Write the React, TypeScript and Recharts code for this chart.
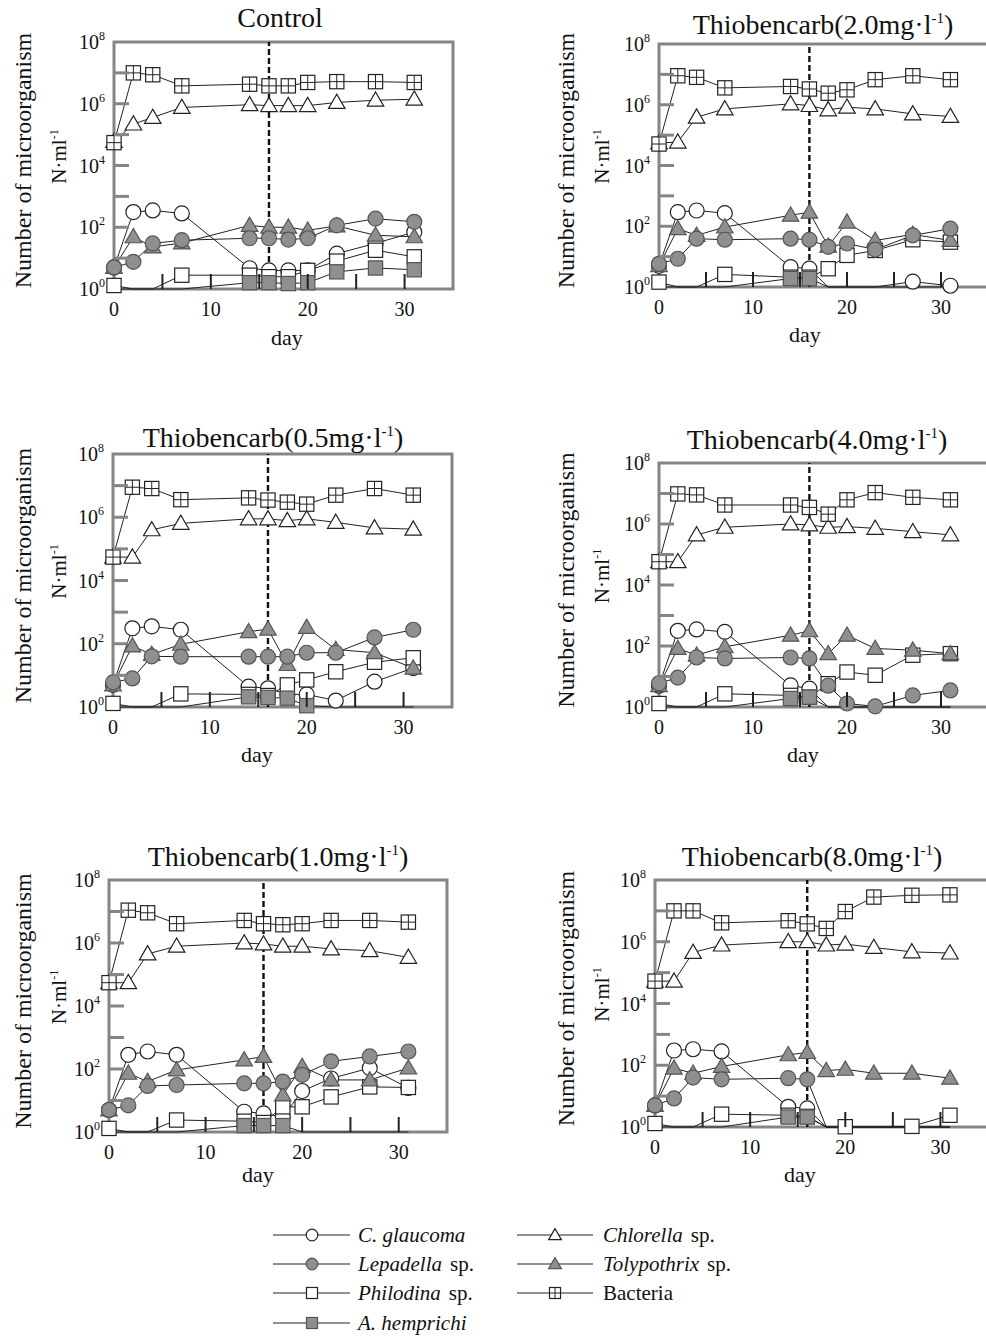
import React from 'react'
import { LineChart, Line, XAxis, YAxis, ReferenceLine, ReferenceArea } from 'recharts'

const DAYS = [0, 2, 4, 7, 14, 16, 18, 20, 23, 27, 31]
const X_TICKS = [0, 5, 10, 15, 20, 25, 30, 35]
const Y_TICKS = [1, 10, 1e2, 1e3, 1e4, 1e5, 1e6, 1e7, 1e8]
const TREATMENT_DAY = 16

// N·ml-1 per sampling day; 0 = not detected (line drops to the axis, no marker)
const CONTROL = {
  glaucoma: [5, 310, 350, 280, 4.7, 4, 4, 4, 14, 30, 70],
  lepadella: [5, 7.6, 30, 38, 44, 44, 40, 44, 115, 190, 150],
  philodina: [1.3, 0, 0, 2.8, 2.8, 2.5, 2.5, 4, 8, 18, 11],
  hemprichi: [0, 0, 0, 0, 1.6, 1.6, 1.5, 1.6, 3.6, 4.8, 4.2],
  chlorella: [6e4, 2.2e5, 3.6e5, 7.6e5, 9.3e5, 8.7e5, 8.7e5, 8.7e5, 1.1e6, 1.3e6, 1.4e6],
  tolypothrix: [5, 49, 23, 31, 115, 100, 100, 80, 110, 55, 49],
  bacteria: [5.5e4, 1e7, 8.7e6, 3.8e6, 4.3e6, 3.8e6, 3.8e6, 4.9e6, 5.2e6, 5.2e6, 4.9e6],
}

const T2_0 = {
  glaucoma: [5, 290, 330, 270, 4.5, 4, 0, 0, 0, 1.5, 1.1],
  lepadella: [5.8, 8.5, 39, 36, 39, 36, 21, 27, 17, 50, 83],
  philodina: [1.45, 0, 0, 2.6, 2.1, 2.1, 4, 11, 16, 36, 30],
  hemprichi: [0, 0, 0, 0, 1.9, 1.9, 0, 0, 0, 0, 0],
  chlorella: [5.5e4, 5.9e4, 3.9e5, 7.3e5, 1.07e6, 9.4e5, 6.8e5, 8.3e5, 7.3e5, 5e5, 4.1e5],
  tolypothrix: [5, 83, 50, 94, 230, 290, 22, 137, 34, 54, 34],
  bacteria: [5.1e4, 9e6, 8e6, 3.6e6, 4e6, 3.3e6, 2.4e6, 3.1e6, 6.7e6, 9e6, 6.7e6],
}

const T0_5 = {
  glaucoma: [5, 307, 355, 277, 4.4, 3.9, 2.5, 2.5, 1.6, 6.3, 17],
  lepadella: [6, 8, 40, 39, 39, 39, 39, 52, 52, 158, 277],
  philodina: [1.3, 0, 0, 2.6, 2.5, 2.3, 5, 7.2, 13, 26, 36],
  hemprichi: [0, 0, 0, 0, 2.1, 2, 1.9, 1.1, 0, 0, 0],
  chlorella: [5.5e4, 5.5e4, 4e5, 6.4e5, 8.9e5, 8.9e5, 7.8e5, 8.9e5, 6.9e5, 4.6e5, 4.2e5],
  tolypothrix: [5, 85, 46, 96, 240, 290, 22, 330, 66, 52, 17],
  bacteria: [5.5e4, 8.9e6, 8.1e6, 3.6e6, 4.1e6, 3.5e6, 3e6, 2.6e6, 5e6, 8.1e6, 5e6],
}

const T4_0 = {
  glaucoma: [5, 315, 350, 290, 5.1, 4, 0, 0, 0, 0, 0],
  lepadella: [6, 9.2, 42, 39, 42, 39, 5, 1.3, 1.05, 2.4, 3.5],
  philodina: [1.3, 0, 0, 2.7, 2.4, 2.1, 5.8, 14, 11, 50, 56],
  hemprichi: [0, 0, 0, 0, 1.9, 2.1, 0, 0, 0, 0, 0],
  chlorella: [5.8e4, 5.8e4, 4.4e5, 7.8e5, 1e6, 9.3e5, 7.8e5, 8.2e5, 7.2e5, 5.6e5, 4.4e5],
  tolypothrix: [5, 83, 50, 94, 225, 315, 56, 225, 83, 73, 56],
  bacteria: [5.8e4, 9.7e6, 9e6, 4.2e6, 4.2e6, 3.5e6, 2.1e6, 6.2e6, 1.07e7, 7.5e6, 6.2e6],
}

const T1_0 = {
  glaucoma: [5, 282, 360, 282, 4.4, 3.9, 3, 20, 50, 107, 25],
  lepadella: [5, 7, 29, 31, 35, 35, 40, 65, 175, 250, 360],
  philodina: [1.3, 0, 0, 2.4, 2.2, 2, 6.3, 6.3, 13, 27, 26],
  hemprichi: [0, 0, 0, 0, 1.6, 1.6, 1.6, 0, 0, 0, 0],
  chlorella: [5.5e4, 5.5e4, 4.5e5, 7.9e5, 1e6, 9.3e5, 7.9e5, 7.9e5, 6.5e5, 5.7e5, 3.5e5],
  tolypothrix: [5, 73, 40, 93, 195, 250, 15, 120, 45, 45, 107],
  bacteria: [5.5e4, 1.1e7, 9.1e6, 4.1e6, 5.2e6, 4.1e6, 3.8e6, 4.1e6, 5.2e6, 5.2e6, 4.6e6],
}

const T8_0 = {
  glaucoma: [5, 300, 330, 280, 4.5, 4, 0, 0, 0, 0, 0],
  lepadella: [5, 8.4, 40, 35, 38, 35, 0, 0, 0, 0, 0],
  philodina: [1.3, 0, 0, 2.6, 2.4, 2.2, 0, 1.02, 0, 1.05, 2.4],
  hemprichi: [0, 0, 0, 0, 2.1, 2.1, 0, 0, 0, 0, 0],
  chlorella: [5.3e4, 5.3e4, 4.5e5, 7.8e5, 1e6, 1e6, 7.8e5, 8.4e5, 6.5e5, 4.7e5, 4.3e5],
  tolypothrix: [5, 80, 55, 91, 218, 258, 67, 74, 55, 55, 38],
  bacteria: [5.3e4, 1e7, 1e7, 4.1e6, 4.8e6, 3.8e6, 2.7e6, 9.5e6, 2.8e7, 3.2e7, 3.3e7],
}

const SERIF = '"Liberation Serif", "Times New Roman", serif'
const INK = '#222'
const FRAME = '#858585'
const GRAY = '#8f8f8f'
const GRAY_EDGE = '#555'

const SERIES = [
  { key: 'glaucoma', shape: 'circle', filled: false, italic: 'C. glaucoma', plain: '' },
  { key: 'lepadella', shape: 'circle', filled: true, italic: 'Lepadella', plain: 'sp.' },
  { key: 'philodina', shape: 'square', filled: false, italic: 'Philodina', plain: 'sp.' },
  { key: 'hemprichi', shape: 'square', filled: true, italic: 'A. hemprichi', plain: '' },
  { key: 'chlorella', shape: 'triangle', filled: false, italic: 'Chlorella', plain: 'sp.' },
  { key: 'tolypothrix', shape: 'triangle', filled: true, italic: 'Tolypothrix', plain: 'sp.' },
  { key: 'bacteria', shape: 'cross', filled: false, italic: '', plain: 'Bacteria' },
]
// markers painted in this order (last on top)
const DOT_ORDER = ['glaucoma', 'philodina', 'hemprichi', 'tolypothrix', 'lepadella', 'chlorella', 'bacteria']
const LEGEND_COLS = [
  ['glaucoma', 'lepadella', 'philodina', 'hemprichi'],
  ['chlorella', 'tolypothrix', 'bacteria'],
]

const PANELS = [
  { dose: null, data: CONTROL, plot: { left: 114, right: 453, top: 42, bottom: 289 }, titleAt: [280, 27], dayAt: [287, 345], labelX: [31, 66] },
  { dose: '2.0', data: T2_0, plot: { left: 659, right: 988, top: 44, bottom: 287 }, titleAt: [823, 34], dayAt: [805, 342], labelX: [574, 609] },
  { dose: '0.5', data: T0_5, plot: { left: 113, right: 452, top: 454, bottom: 707 }, titleAt: [273, 447], dayAt: [257, 762], labelX: [31, 66] },
  { dose: '4.0', data: T4_0, plot: { left: 659, right: 988, top: 463, bottom: 707 }, titleAt: [817, 449], dayAt: [803, 762], labelX: [574, 609] },
  { dose: '1.0', data: T1_0, plot: { left: 109, right: 447, top: 880, bottom: 1132 }, titleAt: [278, 866], dayAt: [258, 1182], labelX: [31, 66] },
  { dose: '8.0', data: T8_0, plot: { left: 655, right: 988, top: 880, bottom: 1127 }, titleAt: [812, 866], dayAt: [800, 1182], labelX: [574, 609] },
]

const Y_W = 60
const X_H = 40
const M_TOP = 20
const M_RIGHT = 10
const M_BOTTOM = 5

function Marker({ shape, filled, cx, cy, s = 7.5 }: any) {
  const fill = filled ? GRAY : '#fff'
  const stroke = filled ? GRAY_EDGE : INK
  if (shape === 'circle') {
    return <circle cx={cx} cy={cy} r={s} fill={fill} stroke={stroke} strokeWidth={1.2} />
  }
  if (shape === 'triangle') {
    const h = s * 1.1
    const pts = `${cx},${cy - h} ${cx - h},${cy + h * 0.72} ${cx + h},${cy + h * 0.72}`
    return <polygon points={pts} fill={fill} stroke={stroke} strokeWidth={1.2} />
  }
  const a = s * 0.95
  return (
    <g>
      <rect x={cx - a} y={cy - a} width={a * 2} height={a * 2} fill={fill} stroke={stroke} strokeWidth={1.2} />
      {shape === 'cross' && (
        <>
          <line x1={cx} x2={cx} y1={cy - a} y2={cy + a} stroke={INK} strokeWidth={1} />
          <line x1={cx - a} x2={cx + a} y1={cy} y2={cy} stroke={INK} strokeWidth={1} />
        </>
      )}
    </g>
  )
}

function XTick({ x, y, payload }: any) {
  const v = payload.value
  return (
    <g>
      {v > 0 && v < 35 && <line x1={x} x2={x} y1={y} y2={y - 15} stroke={INK} strokeWidth={2} />}
      {v % 10 === 0 && (
        <text x={x} y={y + 27} textAnchor="middle" fontSize={20} fontFamily={SERIF} fill="#111">
          {v}
        </text>
      )}
    </g>
  )
}

function YTick({ x, y, payload }: any) {
  const exp = Math.round(Math.log10(payload.value))
  return (
    <g>
      {exp > 0 && exp < 8 && <line x1={x} x2={x + 15} y1={y} y2={y} stroke={FRAME} strokeWidth={3} />}
      {exp % 2 === 0 && (
        <text x={x - 9} y={y + 7} textAnchor="end" fontSize={20} fontFamily={SERIF} fill="#111">
          10
          <tspan dy={-9} fontSize={12}>
            {exp}
          </tspan>
        </text>
      )}
    </g>
  )
}

function Panel({ cfg }: any) {
  const rows = DAYS.map((day, i) => {
    const row: any = { day }
    SERIES.forEach((s) => {
      const v = cfg.data[s.key][i]
      row[s.key] = v > 0 ? v : 1
      row[s.key + 'Nd'] = v === 0
    })
    return row
  })
  const { plot } = cfg
  const W = Y_W + (plot.right - plot.left) + M_RIGHT
  const H = M_TOP + (plot.bottom - plot.top) + X_H + M_BOTTOM

  const dotFor = (s: any) => (p: any) => {
    const k = `${s.key}-${p.index}`
    if (p.cx == null || p.payload[s.key + 'Nd']) return <g key={k} />
    return <Marker key={k} shape={s.shape} filled={s.filled} cx={p.cx} cy={p.cy} />
  }

  return (
    <div style={{ position: 'absolute', left: plot.left - Y_W, top: plot.top - M_TOP }}>
      <LineChart width={W} height={H} data={rows} margin={{ top: M_TOP, right: M_RIGHT, bottom: M_BOTTOM, left: 0 }}>
        <XAxis
          type="number"
          dataKey="day"
          domain={[0, 35]}
          ticks={X_TICKS}
          interval={0}
          tick={(p: any) => <XTick {...p} />}
          tickLine={false}
          axisLine={false}
          tickSize={0}
          tickMargin={0}
          height={X_H}
        />
        <YAxis
          type="number"
          scale="log"
          domain={[1, 1e8]}
          ticks={Y_TICKS}
          interval={0}
          tick={(p: any) => <YTick {...p} />}
          tickLine={false}
          axisLine={false}
          tickSize={0}
          tickMargin={0}
          width={Y_W}
        />
        <ReferenceArea x1={0} x2={35} y1={1} y2={1e8} fill="none" fillOpacity={0} stroke={FRAME} strokeWidth={3} />
        <ReferenceLine x={TREATMENT_DAY} stroke="#111" strokeWidth={2.4} strokeDasharray="6 3" />
        {SERIES.map((s) => (
          <Line
            key={'l-' + s.key}
            type="linear"
            dataKey={s.key}
            stroke={INK}
            strokeWidth={1}
            dot={false}
            activeDot={false}
            isAnimationActive={false}
          />
        ))}
        {DOT_ORDER.map((k) => {
          const s = SERIES.find((x) => x.key === k)!
          return (
            <Line
              key={'d-' + k}
              type="linear"
              dataKey={k}
              stroke="none"
              dot={dotFor(s)}
              activeDot={false}
              isAnimationActive={false}
            />
          )
        })}
      </LineChart>
    </div>
  )
}

function PanelText({ cfg }: any) {
  const { plot } = cfg
  const cy = (plot.top + plot.bottom) / 2
  return (
    <g fontFamily={SERIF} fill="#111">
      <text x={cfg.titleAt[0]} y={cfg.titleAt[1]} textAnchor="middle" fontSize={28}>
        {cfg.dose == null ? (
          'Control'
        ) : (
          <>
            {`Thiobencarb(${cfg.dose}mg·l`}
            <tspan dy={-11} fontSize={15}>
              -1
            </tspan>
            <tspan dy={11}>)</tspan>
          </>
        )}
      </text>
      <text transform={`translate(${cfg.labelX[0]},${cy - 5}) rotate(-90)`} textAnchor="middle" fontSize={24}>
        Number of microorganism
      </text>
      <text transform={`translate(${cfg.labelX[1]},${cy - 9}) rotate(-90)`} textAnchor="middle" fontSize={21}>
        N·ml
        <tspan dy={-8} fontSize={12}>
          -1
        </tspan>
      </text>
      <text x={cfg.dayAt[0]} y={cfg.dayAt[1]} textAnchor="middle" fontSize={22}>
        day
      </text>
    </g>
  )
}

const LEGEND_ROWS = [1235, 1264, 1293, 1323]
const LEGEND_X = [
  { x1: 273, x2: 350, mark: 312, text: 358 },
  { x1: 517, x2: 593, mark: 555, text: 603 },
]

function LegendBlock() {
  return (
    <g fontFamily={SERIF} fill="#111" fontSize={21}>
      {LEGEND_COLS.map((col, ci) =>
        col.map((k, ri) => {
          const s = SERIES.find((x) => x.key === k)!
          const y = LEGEND_ROWS[ri]
          const c = LEGEND_X[ci]
          return (
            <g key={k}>
              <line x1={c.x1} x2={c.x2} y1={y} y2={y} stroke={INK} strokeWidth={1} />
              <Marker shape={s.shape} filled={s.filled} cx={c.mark} cy={y} s={5.8} />
              <text x={c.text} y={y + 7}>
                {s.italic && <tspan fontStyle="italic">{s.italic}</tspan>}
                {s.plain && <tspan dx={s.italic ? 8 : 0}>{s.plain}</tspan>}
              </text>
            </g>
          )
        })
      )}
    </g>
  )
}

export default function App() {
  return (
    <div
      style={{
        position: 'absolute',
        left: 0,
        top: 0,
        width: 986,
        height: 1344,
        overflow: 'hidden',
        background: '#fff',
      }}
    >
      {PANELS.map((p, i) => (
        <Panel key={i} cfg={p} />
      ))}
      <svg width={986} height={1344} style={{ position: 'absolute', left: 0, top: 0, pointerEvents: 'none' }}>
        {PANELS.map((p, i) => (
          <PanelText key={i} cfg={p} />
        ))}
        <LegendBlock />
      </svg>
    </div>
  )
}
